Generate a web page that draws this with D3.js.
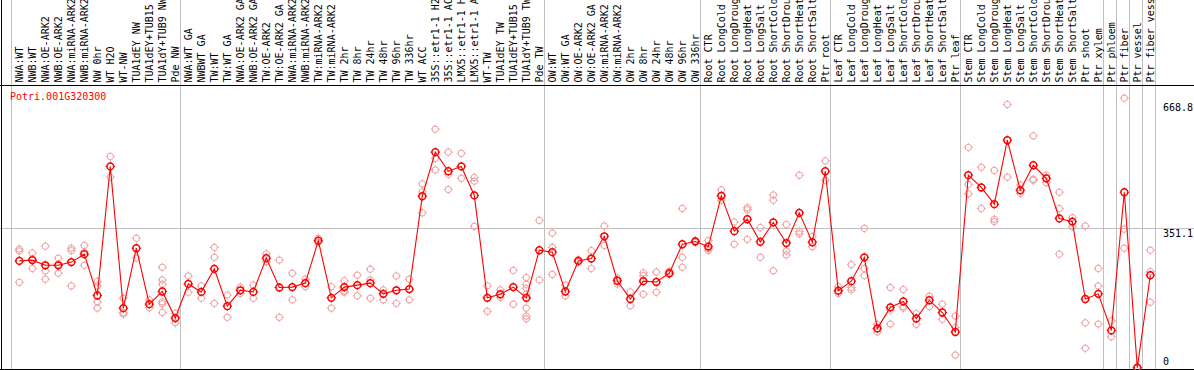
<!DOCTYPE html>
<html>
<head>
<meta charset="utf-8">
<script src="https://cdn.jsdelivr.net/npm/d3@7"></script>
<style>
html,body{margin:0;padding:0;background:#fff;}
svg{display:block;}
text{font-family:"DejaVu Sans Mono",monospace;font-size:10px;}
</style>
</head>
<body>
<svg id="chart" width="1194" height="370"></svg>
<script>
const title = "Potri.001G320300";
const categories = [
"NWA:WT","NWB:WT","NWA:OE-ARK2","NWB:OE-ARK2","NWA:miRNA-ARK2","NWB:miRNA-ARK2","NW 0hr","WT H2O","WT-NW","TUA1dEY NW","TUA1dEY+TUB15 NW","TUA1dY+TUB9 NW","Pde NW",
"NWA:WT GA","NWBWT GA","TW:WT","TW:WT GA","NWA:OE-ARK2 GA","NWB:OE-ARK2 GA","TW:OE-ARK2","TW:OE-ARK2 GA","NWA:miRNA-ARK2 GA","NWB:miRNA-ARK2 GA","TW:miRNA-ARK2","TW:miRNA-ARK2 GA",
"TW 2hr","TW 8hr","TW 24hr","TW 48hr","TW 96hr","TW 336hr","WT ACC","35S::etr1-1 H2O","35S::etr1-1 ACC","LMX5::etr1-1 H2O","LMX5::etr1-1 ACC","WT-TW","TUA1dEY TW","TUA1dEY+TUB15 TW","TUA1dY+TUB9 TW","Pde TW",
"OW:WT","OW:WT GA","OW:OE-ARK2","OW:OE-ARK2 GA","OW:miRNA-ARK2","OW:miRNA-ARK2 GA","OW 2hr","OW 8hr","OW 24hr","OW 48hr","OW 96hr","OW 336hr",
"Root CTR","Root LongCold","Root LongDrought","Root LongHeat","Root LongSalt","Root ShortCold","Root ShortDrought","Root ShortHeat","Root ShortSalt","Ptr root",
"Leaf CTR","Leaf LongCold","Leaf LongDrought","Leaf LongHeat","Leaf LongSalt","Leaf ShortCold","Leaf ShortDrought","Leaf ShortHeat","Leaf ShortSalt","Ptr leaf",
"Stem CTR","Stem LongCold","Stem LongDrought","Stem LongHeat","Stem LongSalt","Stem ShortCold","Stem ShortDrought","Stem ShortHeat","Stem ShortSalt","Ptr shoot","Ptr xylem",
"Ptr phloem","Ptr fiber","Ptr vessel","Ptr fiber vessel"
];
const means = [
269,271,258,258,266,286,182,507,150,301,160,192,125,
211,191,249,155,195,191,276,202,203,213,320,176,
203,208,213,186,195,198,432,543,495,507,434,176,185,203,176,296,
291,192,269,275,331,219,173,218,216,238,311,318,
305,433,344,374,317,366,314,390,316,495,
194,218,278,99,152,167,124,170,139,90,
485,454,412,573,447,510,477,376,368,173,186,
94,442,0,233
];
const replicates = [
[299,294,215],[289,250,274],[306,244,223],[276,238,260],[301,295,206],[308,258,292],[217,206,166,150],[532,480],[175,139,135],[326,276],[171,151],[253,221,210,166,161,139],[137,113],
[231,190],[206,175],[303,278,162],[183,127],[203,187],[208,175],[287,267],[271,127],[238,171],[223,204],[326,316],[204,150],
[219,193,190],[233,181],[248,221,175],[196,171],[231,162],[223,171],[463,443,390],[601,527,498],[543,487,449],[540,477],[479,470,356],[206,142],[196,177],[245,160],[227,210,200,185,150,130,123],[371,221],
[339,303,235],[208,181],[272,266,268],[295,250],[357,308],[225,211],[191,156],[239,232,185],[241,190],[243,236,235],[401,278,253],[320,318,316],
[320,295,300],[448,422],[367,311],[403,398,323],[353,278],[435,422,244],[361,294,284],[485,343,337],[330,305],[521,472],
[204,192,187],[260,202,196],[351,250,232],[109,99,90],[202,145,110],[197,154,150],[136,109],[180,154],[160,122],[130,101,32],
[555,462,438],[505,401],[497,374,368],[663,480],[460,439],[584,475,472],[485,466],[442,401,286],[378,355],[357,113,49],[250,206,110],
[118,78],[679,349,301],[0,0],[296,242,165]
];
const groupBreaks = [0,13,41,53,63,73,84,85,86,87,88];
const yTicks = [668.8, 351.1, 0];
const yTickLabels = ["668.8","351.1","0"];
const yGridValues = [351.1];

const W = 1194, H = 370;
const svg = d3.select("#chart");
const plotTop = 85.5, plotBottom = 369.5;

const x = d3.scaleBand().domain(d3.range(categories.length)).range([11, 11 + 13*categories.length]).padding(0);
const px = i => x(i) + 8.3;
const y = d3.scaleLinear().domain([0, 668.8]).range([367.7, 102.2]);

// vertical group separators (through header and plot)
svg.append("g").selectAll("line").data(groupBreaks).join("line")
  .attr("x1", d => Math.round(x(d) ?? (x(categories.length-1)+x.bandwidth())) + 0.5)
  .attr("x2", d => Math.round(x(d) ?? (x(categories.length-1)+x.bandwidth())) + 0.5)
  .attr("y1", 0).attr("y2", plotBottom)
  .attr("stroke", "#c0c0c0").attr("stroke-width", 1);

// horizontal grid
svg.append("g").selectAll("line").data(yGridValues).join("line")
  .attr("x1", 0).attr("x2", W)
  .attr("y1", d => Math.round(y(d)) + 0.5).attr("y2", d => Math.round(y(d)) + 0.5)
  .attr("stroke", "#c0c0c0").attr("stroke-width", 1);

// borders
svg.append("line").attr("x1",0).attr("x2",W).attr("y1",plotTop).attr("y2",plotTop).attr("stroke","#000");
svg.append("line").attr("x1",0).attr("x2",W).attr("y1",plotBottom).attr("y2",plotBottom).attr("stroke","#000");
svg.append("line").attr("x1",1.5).attr("x2",1.5).attr("y1",0).attr("y2",H).attr("stroke","#000");

// header labels
svg.append("g").selectAll("text").data(categories).join("text")
  .attr("transform", (d,i) => `translate(${px(i)},82.5) rotate(-90)`)
  .attr("dy", "0.35em")
  .attr("text-anchor", "start")
  .attr("fill", "#000")
  .text(d => d);

// title
svg.append("text").attr("x", 10).attr("y", 100).attr("fill", "#ff0000").text(title);

// right axis labels
svg.append("g").selectAll("text").data(yTicks).join("text")
  .attr("x", 1163)
  .attr("y", d => d === 0 ? y(d) - 2.7 : y(d) + 8.5)
  .attr("fill", "#000")
  .text((d,i) => yTickLabels[i]);

function marker(g, cx, cy, r, color, sw) {
  g.append("circle").attr("cx", cx).attr("cy", cy).attr("r", r)
    .attr("fill", "none").attr("stroke", color).attr("stroke-width", sw);
  const t = r + 1.3;
  g.append("path")
    .attr("d", `M${cx},${cy-t}V${cy-r+0.6}M${cx},${cy+r-0.6}V${cy+t}M${cx-t},${cy}H${cx-r+0.6}M${cx+r-0.6},${cy}H${cx+t}`)
    .attr("stroke", color).attr("stroke-width", 1);
}

const clip = svg.append("clipPath").attr("id","pc").append("rect")
  .attr("x", 0).attr("y", plotTop).attr("width", W).attr("height", plotBottom - plotTop);
const plot = svg.append("g").attr("clip-path","url(#pc)");

// replicates
const repG = plot.append("g");
replicates.forEach((reps, i) => {
  reps.forEach(v => marker(repG, px(i), y(v), 3.2, "#f0a0a0", 1));
});

// mean line
plot.append("path")
  .datum(means)
  .attr("fill", "none")
  .attr("stroke", "#ff0000")
  .attr("stroke-width", 1.1)
  .attr("d", d3.line().x((d,i) => px(i)).y(d => y(d)));

const meanG = plot.append("g");
means.forEach((v, i) => marker(meanG, px(i), y(v), 3.4, "#ff0000", 1.5));
</script>
</body>
</html>
